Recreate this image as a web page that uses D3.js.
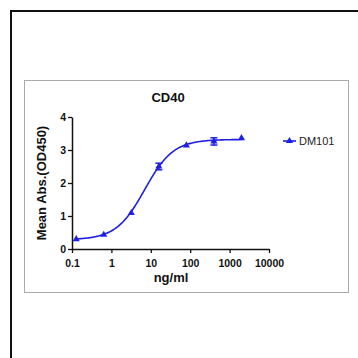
<!DOCTYPE html>
<html><head><meta charset="utf-8">
<script src="https://cdn.jsdelivr.net/npm/d3@7"></script>
<style>body{margin:0;background:#fff}svg{display:block}text{font-family:"Liberation Sans",Arial,sans-serif}</style>
</head><body><svg id="c" width="358" height="358"></svg>
<script>
const conc = [0.128, 0.64, 3.2, 16, 80, 400, 2000];
const meanAbs = [0.30, 0.43, 1.09, 2.50, 3.14, 3.26, 3.36];
const errAbs = [0, 0, 0, 0.10, 0, 0.11, 0];
const fitParams = [0.28, 3.32, 7, 1.2]; // bottom, top, EC50, hill
const xTicks = [0.1, 1, 10, 100, 1000, 10000];
const xTickLabels = ["0.1", "1", "10", "100", "1000", "10000"];
const yTicks = [0, 1, 2, 3, 4];
const seriesName = "DM101";
const color = "#1f1fe6";

const svg = d3.select("#c");
// outer black frame
svg.append("path").attr("d","M11,358 V11 H358").attr("fill","none").attr("stroke","#111").attr("stroke-width",2);
// inner gray panel
svg.append("rect").attr("x",24.5).attr("y",80.5).attr("width",324).attr("height",212).attr("fill","#fff").attr("stroke","#aaa").attr("stroke-width",1);

const x = d3.scaleLog().domain([0.1,10000]).range([72,269]);
const y = d3.scaleLinear().domain([0,4]).range([249,117]);

const xa = svg.append("g").attr("transform","translate(0,249)")
  .call(d3.axisBottom(x).tickValues(xTicks).tickFormat((d,i)=>xTickLabels[i]).tickSize(4).tickSizeOuter(0));
const ya = svg.append("g").attr("transform","translate(72,0)")
  .call(d3.axisLeft(y).tickValues(yTicks).tickFormat(d3.format("d")).tickSize(4).tickSizeOuter(0));
[xa,ya].forEach(g=>{
  g.select(".domain").attr("stroke","#111").attr("stroke-width",1.5);
  g.selectAll(".tick line").attr("stroke","#111").attr("stroke-width",1.3);
  g.selectAll("text").attr("fill","#111").style("font-size","10.5px").style("font-weight","bold");
});
xa.selectAll("text").attr("dy","1.0em");
ya.selectAll("text").attr("dx","0.1em");

// fitted curve
const [B,T,EC,H] = fitParams;
const lo = Math.log10(conc[0]), hi = Math.log10(conc[conc.length-1]);
const pts = d3.range(0,201).map(i=>{const c=Math.pow(10, lo+(hi-lo)*i/200); return [c, B+(T-B)/(1+Math.pow(EC/c,H))];});
svg.append("path").datum(pts).attr("fill","none").attr("stroke",color).attr("stroke-width",1.6)
  .attr("d", d3.line().x(d=>x(d[0])).y(d=>y(d[1])));

// error bars
conc.forEach((c,i)=>{
  if(!errAbs[i]) return;
  const cx=x(c), y1=y(meanAbs[i]+errAbs[i]), y2=y(meanAbs[i]-errAbs[i]);
  svg.append("line").attr("x1",cx).attr("x2",cx).attr("y1",y1).attr("y2",y2).attr("stroke",color).attr("stroke-width",1.5);
  [y1,y2].forEach(yy=>svg.append("line").attr("x1",cx-3.5).attr("x2",cx+3.5).attr("y1",yy).attr("y2",yy).attr("stroke",color).attr("stroke-width",1.5));
});
// markers
const tri = d3.symbol().type(d3.symbolTriangle).size(22);
svg.selectAll(".m").data(conc).join("path").attr("class","m")
  .attr("transform",(d,i)=>`translate(${x(d)},${y(meanAbs[i])})`).attr("d",tri).attr("fill",color);

// titles
svg.append("text").attr("x",168).attr("y",102).attr("text-anchor","middle").style("font-size","13px").style("font-weight","bold").attr("fill","#111").text("CD40");
svg.append("text").attr("x",171).attr("y",282).attr("text-anchor","middle").style("font-size","13px").style("font-weight","bold").attr("fill","#111").text("ng/ml");
svg.append("text").attr("transform","translate(46,183) rotate(-90)").attr("text-anchor","middle").style("font-size","13px").style("font-weight","bold").attr("fill","#111").text("Mean Abs.(OD450)");

// legend
svg.append("line").attr("x1",283).attr("x2",296).attr("y1",141).attr("y2",141).attr("stroke",color).attr("stroke-width",1.6);
svg.append("path").attr("transform","translate(289.5,141)").attr("d",tri).attr("fill",color);
svg.append("text").attr("x",299).attr("y",145).style("font-size","11px").attr("fill","#222").text(seriesName);
</script></body></html>
